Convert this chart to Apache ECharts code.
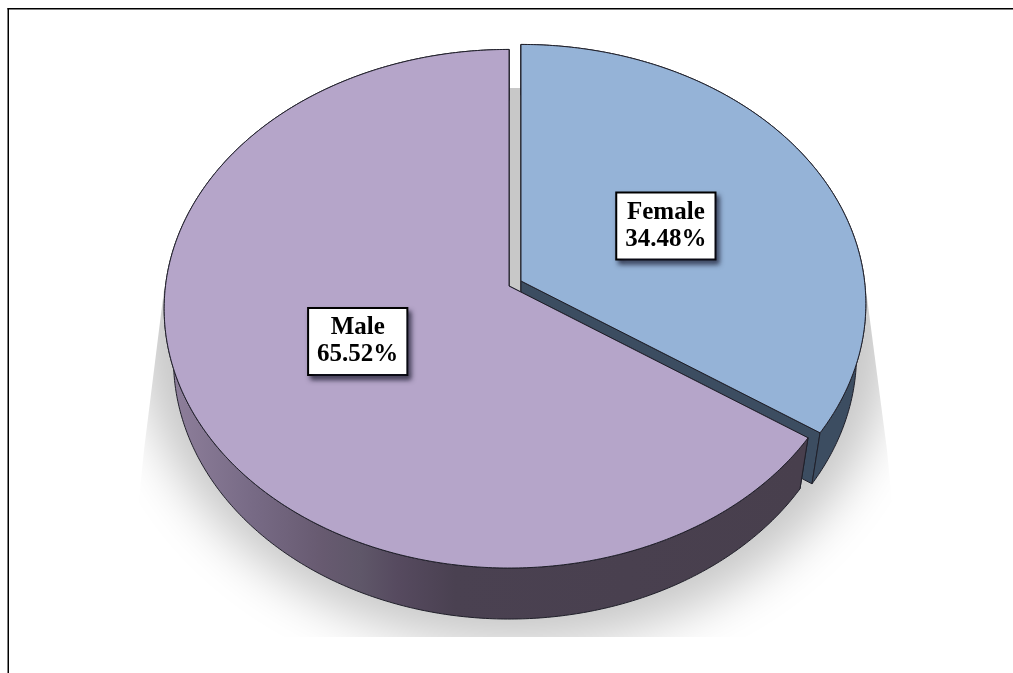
<!DOCTYPE html>
<html>
<head>
<meta charset="utf-8">
<style>html,body{margin:0;padding:0;background:#fff}#c{width:1013px;height:673px}</style>
<script src="https://cdn.jsdelivr.net/npm/echarts@6/dist/echarts.min.js"></script>
</head>
<body>
<div id="c"></div>
<script>
const categories = ['Female', 'Male'];
const percents = [34.48, 65.52];
const topColors = ['#95b3d7', '#b5a5c9'];

// Layout of the tilted disc
const apexes = [[521, 281], [509, 286]];
const labelFractions = [[0.497, 0.476], [0.478, 0.441]];
const RX = 343.5, RY = 257.3, PERSPECTIVE = 0.0877, DEPTH = 51, LOWER_SCALE = 0.973;
const EDGE = '#20202a';

const wallFills = [
  '#3c4d61',
  { type: 'linear', global: true, x: 172, y: 0, x2: 800, y2: 0, colorStops: [
    { offset: 0, color: '#8e7f9b' },
    { offset: 0.13, color: '#776a85' },
    { offset: 0.24, color: '#675a70' },
    { offset: 0.30, color: '#5f5769' },
    { offset: 0.36, color: '#564a5f' },
    { offset: 0.45, color: '#4a4151' },
    { offset: 1, color: '#483f4d' }
  ] }
];
const cutFills = ['#3c4d61', '#483f4d'];

function project(apex, angle, low) {
  const s = Math.sin(angle), w = Math.cos(angle), d = 1 + PERSPECTIVE * w;
  const sx = low ? LOWER_SCALE : 1;
  return [apex[0] + sx * RX * s / d, apex[1] - RY * w / d + (low ? DEPTH : 0)];
}
function arc(apex, a0, a1, low) {
  const pts = [], n = Math.max(2, Math.ceil(Math.abs(a1 - a0) / 0.01));
  for (let i = 0; i <= n; i++) pts.push(project(apex, a0 + (a1 - a0) * i / n, low));
  return pts;
}
const total = percents.reduce((a, b) => a + b, 0);

function renderSlice(params, api) {
  const i = params.dataIndex;
  const before = percents.slice(0, i).reduce((a, b) => a + b, 0);
  const a0 = before / total * Math.PI * 2;
  const a1 = (before + api.value(0)) / total * Math.PI * 2;
  const mid = (a0 + a1) / 2;
  const apex = apexes[i];
  const apexLow = [apex[0], apex[1] + DEPTH];
  const lineStyle = { stroke: EDGE, lineWidth: 1, lineJoin: 'round' };
  const topArc = arc(apex, a0, a1, false);
  const lowArc = arc(apex, a0, a1, true);
  const cut = (a) => [apex, project(apex, a, false), project(apex, a, true), apexLow];
  const lp = project(apex, mid, false);
  const f = labelFractions[i];
  return {
    type: 'group',
    children: [
      { type: 'polygon', shape: { points: cut(a0) }, style: Object.assign({ fill: cutFills[i] }, lineStyle) },
      { type: 'polygon', shape: { points: cut(a1) }, style: Object.assign({ fill: cutFills[i] }, lineStyle) },
      { type: 'polygon', shape: { points: topArc.concat(lowArc.slice().reverse()) }, style: Object.assign({ fill: wallFills[i] }, lineStyle) },
      { type: 'polygon', shape: { points: [apex].concat(topArc) }, style: Object.assign({ fill: topColors[i] }, lineStyle) },
      { type: 'text', x: apex[0] + (lp[0] - apex[0]) * f[0], y: apex[1] + (lp[1] - apex[1]) * f[1],
        style: {
          text: categories[i] + '\n' + api.value(0).toFixed(2) + '%',
          font: 'bold 25px "Liberation Serif", "Times New Roman", serif',
          fill: '#000', align: 'center', verticalAlign: 'middle', lineHeight: 27,
          backgroundColor: '#fff', borderColor: '#000', borderWidth: 2, padding: [6, 8, 5, 8],
          shadowColor: 'rgba(20,20,40,0.7)', shadowBlur: 5, shadowOffsetX: 3, shadowOffsetY: 4
        } }
    ]
  };
}

function renderShadow() {
  const OFF = 2000;
  return {
    type: 'group',
    clipPath: { type: 'polygon', shape: { points: [[335, 88], [690, 88], [866, 290], [887, 450], [905, 637], [125, 637], [144, 450], [164, 290]] } },
    children: [
      { type: 'ellipse', shape: { cx: 515 - OFF, cy: 320, rx: 380, ry: 325 },
        style: { fill: '#c8c8c8', shadowColor: '#c8c8c8', shadowBlur: 50, shadowOffsetX: OFF, shadowOffsetY: 0 } }
    ]
  };
}

const chart = echarts.init(document.getElementById('c'), null, { renderer: 'canvas' });
chart.setOption({
  animation: false,
  backgroundColor: '#fff',
  graphic: [
    { type: 'line', shape: { x1: 8.25, y1: 8, x2: 8.25, y2: 673 }, style: { stroke: '#000', lineWidth: 1.5 } },
    { type: 'line', shape: { x1: 7.5, y1: 8.75, x2: 1013, y2: 8.75 }, style: { stroke: '#000', lineWidth: 1.5 } }
  ],
  series: [
    { type: 'custom', coordinateSystem: 'none', silent: true, z: 1, renderItem: renderShadow, data: [1] },
    { type: 'custom', coordinateSystem: 'none', silent: true, z: 2, renderItem: renderSlice,
      data: percents.map((v, i) => ({ name: categories[i], value: [v] })) }
  ]
});
</script>
</body>
</html>
